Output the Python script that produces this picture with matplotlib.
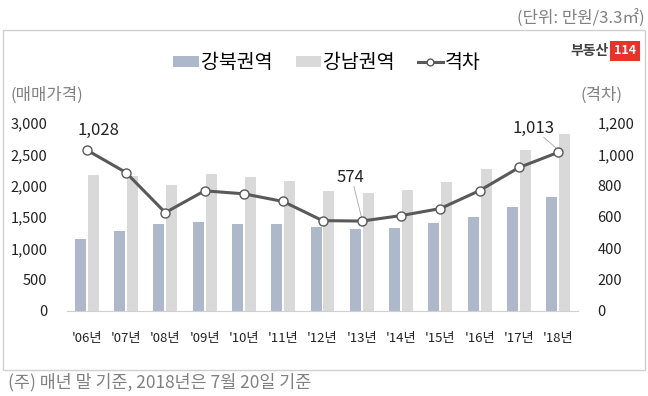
import matplotlib
matplotlib.use("Agg")
import matplotlib.pyplot as plt
from matplotlib.patches import Rectangle
import numpy as np

plt.rcParams['font.family'] = ['Noto Sans CJK KR', 'DejaVu Sans']

years = ["'06년", "'07년", "'08년", "'09년", "'10년", "'11년", "'12년",
         "'13년", "'14년", "'15년", "'16년", "'17년", "'18년"]
gangbuk = [1150, 1279, 1390, 1422, 1390, 1390, 1343, 1311, 1327, 1406, 1502, 1662, 1816]
gangnam = [2174, 2158, 2014, 2190, 2142, 2078, 1918, 1885, 1934, 2062, 2270, 2573, 2829]
gap = [1028, 884, 628, 767, 748, 699, 577, 574, 609, 654, 769, 916, 1013]
labeled = [0, 7, 12]

c_north = "#adb9ca"
c_south = "#d9d9d9"
c_line = "#595959"
c_grey = "#808080"

W, H = 648, 396
fig = plt.figure(figsize=(6.48, 3.96), dpi=100)

# outer frame
fig.patches.append(Rectangle((3 / W, 1 - 370 / H), 642 / W, 340 / H, transform=fig.transFigure,
                             fill=False, edgecolor="#d0d0d0", lw=1.0))

ax = fig.add_axes([67 / W, 1 - 311 / H, 511 / W, 188 / H])
x = np.arange(len(years))
bw = 0.28
ax.bar(x - 0.165, gangbuk, bw, color=c_north, label="강북권역", zorder=2)
ax.bar(x + 0.165, gangnam, bw, color=c_south, label="강남권역", zorder=2)
ax.set_xlim(-0.5, len(years) - 0.5)
ax.set_ylim(0, 3000)
ax.set_yticks(range(0, 3001, 500))
ax.set_yticklabels([f"{v:,}" for v in range(0, 3001, 500)])
ax.set_xticks(x)
ax.set_xticklabels(years)
for s in ["top", "right", "left"]:
    ax.spines[s].set_visible(False)
ax.spines["bottom"].set_color("#d0d0d0")
ax.tick_params(axis="both", length=0, colors="#222222")
ax.tick_params(axis="x", pad=15, labelsize=9.5)
ax.tick_params(axis="y", pad=14, labelsize=10.5)

ax2 = ax.twinx()
ax2.plot(x, gap, color=c_line, lw=2.2, marker="o", ms=6.5, mfc="white",
         mec=c_line, mew=1.0, label="격차", zorder=3)
ax2.set_ylim(0, 1200)
ax2.set_yticks(range(0, 1201, 200))
ax2.set_yticklabels([f"{v:,}" for v in range(0, 1201, 200)])
for s in ["top", "right", "left", "bottom"]:
    ax2.spines[s].set_visible(False)
ax2.tick_params(axis="y", length=0, labelsize=10.5, colors="#222222", pad=14)

# data labels (text offset in data units, leader start offset)
offsets = {0: (0.3, 70, None), 7: (-0.28, 225, 0.08), 12: (-0.62, 100, 0.25)}
for i in labeled:
    dx, dy, lead = offsets[i]
    tx, ty = x[i] + dx, gap[i] + dy
    ax2.text(tx, ty, f"{gap[i]:,}", ha="center", va="bottom", fontsize=12, color="#222222")
    if lead is not None:
        ax2.plot([tx + lead, x[i]], [ty - 5, gap[i] + 15],
                 color="#a6a6a6", lw=0.6, zorder=2)

# legend
h1, l1 = ax.get_legend_handles_labels()
h2, l2 = ax2.get_legend_handles_labels()
fig.legend(h1 + h2, l1 + l2, loc="center", bbox_to_anchor=(327 / W, 1 - 63 / H), ncol=3,
           frameon=False, fontsize=14, handlelength=1.3, handleheight=0.45,
           handletextpad=0.1, columnspacing=1.2, markerscale=0.75)

fig.text(10 / W, 1 - 95 / H, "(매매가격)", fontsize=12, color=c_grey, va="center")
fig.text(580 / W, 1 - 95 / H, "(격차)", fontsize=12, color=c_grey, va="center")
fig.text(645 / W, 1 - 19 / H, "(단위: 만원/3.3㎡)", fontsize=12, color=c_grey,
         va="center", ha="right")
fig.text(8 / W, 1 - 382 / H, "(주) 매년 말 기준, 2018년은 7월 20일 기준", fontsize=12.5,
         color=c_grey, va="center")

# logo
fig.text(609 / W, 1 - 51 / H, "부동산", fontsize=10, fontweight="bold", color="#404040",
         va="center", ha="right")
fig.text(625 / W, 1 - 51 / H, "114", fontsize=9, fontweight="bold", color="white",
         va="center", ha="center",
         bbox=dict(boxstyle="square,pad=0.3", fc="#e8322a", ec="none"))

fig.savefig("out.png", dpi=100)
